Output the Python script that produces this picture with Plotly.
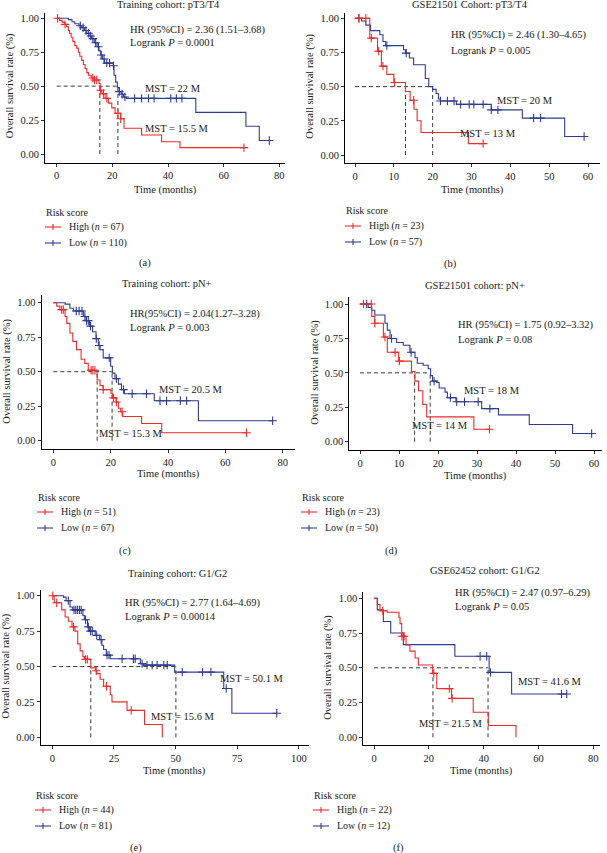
import numpy as np
import plotly.graph_objects as go

RED = "#ee2a2a"
BLUE = "#2f3c8f"
DASH = "#3a3a3a"
FONT = "Liberation Serif"
TXT = "#1a1a1a"

# ---------------- DATA ----------------
# (a) Training cohort: pT3/T4
a_title = "Training cohort: pT3/T4"
a_high_time = [1.0, 2.0, 2.8, 3.5, 4.2, 4.6, 5.2, 5.8, 6.5, 7.2, 7.8, 8.3, 9.0, 9.6, 10.2, 10.8,
               11.4, 12.4, 13.5, 15.2, 15.6, 16.2, 17.4, 18.6, 19.8, 21.0, 23.0, 24.2, 30.5, 37.7, 44.3]
a_high_surv = [0.985, 0.97, 0.955, 0.94, 0.91, 0.89, 0.86, 0.83, 0.80, 0.78, 0.75, 0.72, 0.69, 0.66, 0.63, 0.60,
               0.58, 0.56, 0.545, 0.52, 0.47, 0.445, 0.41, 0.375, 0.34, 0.30, 0.26, 0.19, 0.14, 0.09, 0.047]
a_high_end = 67.3
a_high_cens = [0.3, 3.0, 13.0, 13.6, 14.4, 15.8, 16.8, 18.0, 22.0, 23.0, 67.3]
a_low_time = [4.2, 5.5, 6.5, 8.0, 9.0, 10.0, 10.8, 12.0, 12.5, 13.5, 14.5, 15.2, 15.8, 16.4, 17.2,
              20.3, 20.6, 21.2, 21.8, 22.5, 23.2, 24.0, 25.0, 50.0, 68.0, 72.8]
a_low_surv = [0.99, 0.975, 0.96, 0.945, 0.93, 0.91, 0.89, 0.87, 0.85, 0.82, 0.79, 0.76, 0.73, 0.70, 0.67,
              0.65, 0.58, 0.53, 0.49, 0.46, 0.44, 0.42, 0.41, 0.307, 0.205, 0.10]
a_low_end = 76.4
a_low_cens = [8.5, 9.5, 10.5, 11.5, 12.2, 13.0, 14.0, 15.0, 16.0, 17.0, 18.0, 19.0, 20.4, 22.5, 23.5,
              24.5, 28.0, 30.5, 33.0, 35.0, 41.0, 43.0, 45.0, 76.4]
a_n = [67, 110]
a_mst = [15.5, 22]
a_hr = "HR (95%CI) = 2.36 (1.51–3.68)"
a_p = "0.0001"

# (b) GSE21501 Cohort: pT3/T4
b_title = "GSE21501 Cohort: pT3/T4"
b_high_time = [3.8, 5.8, 6.8, 8.2, 10.0, 13.0, 14.2, 15.2, 16.0, 17.0, 29.2]
b_high_surv = [0.855, 0.76, 0.65, 0.59, 0.53, 0.465, 0.40, 0.335, 0.25, 0.165, 0.083]
b_high_end = 33.0
b_high_cens = [1.0, 2.8, 4.2, 6.1, 7.2, 10.2, 15.1, 33.0]
b_low_time = [1.7, 2.8, 4.0, 6.4, 7.2, 7.9, 12.5, 13.0, 14.0, 15.1, 18.1, 19.0, 20.0, 20.9, 21.5, 22.0,
              26.1, 35.1, 43.1, 54.0]
b_low_surv = [0.98, 0.95, 0.91, 0.88, 0.83, 0.80, 0.77, 0.745, 0.71, 0.66, 0.56, 0.50, 0.48, 0.45, 0.41, 0.395,
              0.37, 0.33, 0.27, 0.135]
b_low_end = 59.0
b_low_cens = [1.0, 8.2, 13.2, 22.0, 23.8, 25.5, 27.2, 29.4, 30.6, 33.0, 35.1, 36.8, 46.0, 47.8, 59.0]
b_n = [23, 57]
b_mst = [13, 20]
b_hr = "HR (95%CI) = 2.46 (1.30–4.65)"
b_p = "0.005"

# (c) Training cohort: pN+
c_title = "Training cohort: pN+"
c_high_time = [1.2, 2.3, 4.1, 4.7, 5.8, 6.8, 8.1, 9.7, 11.0, 12.2, 15.3, 16.3, 17.4, 20.1, 20.6, 21.9,
               22.7, 23.5, 24.2, 30.8, 37.8]
c_high_surv = [0.975, 0.95, 0.90, 0.85, 0.78, 0.72, 0.66, 0.59, 0.56, 0.51, 0.44, 0.40, 0.37, 0.345, 0.31, 0.28,
               0.235, 0.21, 0.175, 0.125, 0.058]
c_high_end = 67.4
c_high_cens = [2.9, 3.5, 13.2, 13.8, 14.5, 17.4, 21.0, 22.0, 24.0, 67.4]
c_low_time = [4.1, 5.8, 7.0, 10.5, 11.4, 12.6, 13.7, 14.9, 15.7, 16.3, 17.4, 20.0, 20.6, 21.5, 22.7, 23.8,
              24.8, 35.2, 50.6]
c_low_surv = [0.99, 0.96, 0.94, 0.90, 0.87, 0.83, 0.79, 0.74, 0.69, 0.66, 0.60, 0.54, 0.49, 0.45, 0.41, 0.37,
              0.34, 0.29, 0.145]
c_low_end = 76.5
c_low_cens = [8.0, 9.0, 10.0, 11.0, 11.6, 12.2, 13.0, 15.0, 16.0, 19.5, 22.0, 24.5, 27.5, 32.5, 37.2,
              39.5, 44.3, 46.5, 76.5]
c_n = [51, 67]
c_mst = [15.3, 20.5]
c_hr = "HR(95%CI) = 2.04(1.27–3.28)"
c_p = "0.003"

# (d) GSE21501 cohort: pN+
d_title = "GSE21501 cohort: pN+"
d_high_time = [3.0, 3.8, 6.0, 7.0, 9.9, 13.2, 14.1, 15.0, 16.1, 17.1, 29.2]
d_high_surv = [0.91, 0.86, 0.76, 0.65, 0.585, 0.51, 0.44, 0.37, 0.27, 0.18, 0.09]
d_high_end = 33.2
d_high_cens = [0.9, 2.9, 3.8, 6.4, 9.0, 10.1, 33.2]
d_low_time = [2.1, 3.0, 3.8, 6.4, 7.0, 7.7, 9.4, 11.1, 12.8, 14.1, 14.7, 16.2, 17.5, 18.1, 18.6, 19.7,
              20.3, 21.8, 22.4, 24.6, 31.2, 35.5, 43.4, 54.5]
d_low_surv = [0.975, 0.955, 0.92, 0.86, 0.81, 0.75, 0.72, 0.70, 0.65, 0.61, 0.57, 0.555, 0.53, 0.48, 0.44, 0.43,
              0.39, 0.36, 0.32, 0.29, 0.24, 0.195, 0.125, 0.06]
d_low_end = 59.4
d_low_cens = [1.7, 8.1, 13.1, 19.0, 23.2, 24.8, 26.8, 30.3, 33.3, 59.4]
d_n = [23, 50]
d_mst = [14, 18]
d_hr = "HR (95%CI) = 1.75 (0.92–3.32)"
d_p = "0.08"

# (e) Training cohort: G1/G2
e_title = "Training cohort: G1/G2"
e_high_time = [0.8, 3.8, 5.2, 6.5, 8.0, 9.2, 10.3, 11.3, 12.4, 13.0, 15.6, 17.5, 18.1, 19.4, 20.8, 23.5,
               24.2, 30.3, 37.4, 44.6]
e_high_surv = [0.95, 0.90, 0.85, 0.82, 0.78, 0.75, 0.66, 0.61, 0.57, 0.55, 0.49, 0.47, 0.45, 0.41, 0.36, 0.30,
               0.25, 0.19, 0.09, 0.0]
e_high_end = 44.6
e_high_cens = [0.2, 1.8, 8.6, 13.5, 14.2, 17.8, 22.0, 32.0]
e_low_time = [4.5, 5.6, 7.2, 8.3, 12.4, 13.0, 14.3, 15.0, 17.4, 19.2, 20.1, 20.8, 21.9, 23.5, 35.7, 36.8,
              49.6, 69.5, 72.8]
e_low_surv = [0.99, 0.965, 0.92, 0.90, 0.86, 0.83, 0.78, 0.75, 0.72, 0.69, 0.65, 0.62, 0.58, 0.555, 0.52, 0.51,
              0.46, 0.345, 0.17]
e_low_end = 91.0
e_low_cens = [6.5, 8.8, 9.5, 10.2, 11.0, 11.7, 13.5, 14.6, 15.5, 16.2, 18.0, 19.8, 22.2, 23.0, 28.3, 32.9,
              33.6, 36.4, 38.4, 40.5, 42.5, 45.2, 46.6, 52.7, 60.9, 64.3, 70.5, 91.0]
e_n = [44, 81]
e_mst = [15.6, 50.1]
e_hr = "HR (95%CI) = 2.77 (1.64–4.69)"
e_p = "0.00014"

# (f) GSE62452 cohort: G1/G2
f_title = "GSE62452 cohort: G1/G2"
f_high_time = [1.2, 2.2, 4.8, 9.1, 9.5, 10.1, 11.7, 13.1, 15.0, 16.2, 21.4, 22.9, 28.3, 36.2, 41.7, 51.8]
f_high_surv = [0.955, 0.91, 0.90, 0.864, 0.818, 0.727, 0.665, 0.62, 0.57, 0.52, 0.46, 0.35, 0.28, 0.18, 0.085, 0.0]
f_high_end = 51.8
f_high_cens = [3.2, 10.2, 11.0, 21.8, 27.5, 28.5]
f_low_time = [1.2, 3.4, 6.1, 10.7, 29.5, 42.0, 50.2]
f_low_surv = [0.917, 0.833, 0.75, 0.667, 0.583, 0.467, 0.311]
f_low_end = 70.3
f_low_cens = [38.7, 41.1, 42.5, 68.4, 70.3]
f_n = [22, 12]
f_mst = [21.5, 41.6]
f_hr = "HR (95%CI) = 2.47 (0.97–6.29)"
f_p = "0.05"

# ---------------- LAYOUT SPECS (pixels) ----------------
W, H = 607, 853
specs = [
    dict(key="a", title=a_title, ht=a_high_time, hs=a_high_surv, he=a_high_end, hc=a_high_cens,
         lt=a_low_time, ls=a_low_surv, le=a_low_end, lc=a_low_cens, n=a_n, mst=a_mst, hr=a_hr, p=a_p,
         frame=(45, 285, 13, 162.7), cal=(56.7, 279.3, 80, 154.0, 18.3), xt=[0, 20, 40, 60, 80],
         hrpos=(25.7, 0.914, 0.82), msth=(30.9, 0.19), mstl=(31.1, 0.484),
         tpos=(168, 4), leg=(45, 212), sub=(145, 263), ytx=10, xty=190),
    dict(key="b", title=b_title, ht=b_high_time, hs=b_high_surv, he=b_high_end, hc=b_high_cens,
         lt=b_low_time, ls=b_low_surv, le=b_low_end, lc=b_low_cens, n=b_n, mst=b_mst, hr=b_hr, p=b_p,
         frame=(345, 600, 13, 163.3), cal=(355.0, 588.0, 60, 155.0, 18.3), xt=[0, 10, 20, 30, 40, 50, 60],
         hrpos=(24.1, 0.878, 0.768), msth=(26.6, 0.16), mstl=(36.0, 0.40),
         tpos=(470, 4), leg=(345, 211), sub=(450, 264), ytx=310, xty=190),
    dict(key="c", title=c_title, ht=c_high_time, hs=c_high_surv, he=c_high_end, hc=c_high_cens,
         lt=c_low_time, ls=c_low_surv, le=c_low_end, lc=c_low_cens, n=c_n, mst=c_mst, hr=c_hr, p=c_p,
         frame=(41.7, 295, 295, 449.3), cal=(53.3, 282.7, 80, 440.7, 302.7), xt=[0, 20, 40, 60, 80],
         hrpos=(26.2, 0.916, 0.82), msth=(15.1, 0.053), mstl=(36.3, 0.374),
         tpos=(167, 283), leg=(37, 497), sub=(125, 551), ytx=7, xty=474),
    dict(key="d", title=d_title, ht=d_high_time, hs=d_high_surv, he=d_high_end, hc=d_high_cens,
         lt=d_low_time, ls=d_low_surv, le=d_low_end, lc=d_low_cens, n=d_n, mst=d_mst, hr=d_hr, p=d_p,
         frame=(349.3, 602, 297, 450), cal=(360.0, 594.0, 60, 441.7, 304.0), xt=[0, 10, 20, 30, 40, 50, 60],
         hrpos=(24.6, 0.847, 0.743), msth=(12.8, 0.116), mstl=(26.1, 0.37),
         tpos=(475, 285), leg=(301, 497), sub=(392, 551), ytx=315, xty=476),
    dict(key="e", title=e_title, ht=e_high_time, hs=e_high_surv, he=e_high_end, hc=e_high_cens,
         lt=e_low_time, ls=e_low_surv, le=e_low_end, lc=e_low_cens, n=e_n, mst=e_mst, hr=e_hr, p=e_p,
         frame=(40.7, 309, 590, 745), cal=(52.3, 237.3, 75, 737.3, 595.7), xt=[0, 25, 50, 75, 100],
         hrpos=(28.5, 0.95, 0.856), msth=(39.3, 0.146), mstl=(67.3, 0.416),
         tpos=(177, 573), leg=(35, 795), sub=(136, 848), ytx=5, xty=771),
    dict(key="f", title=f_title, ht=f_high_time, hs=f_high_surv, he=f_high_end, hc=f_high_cens,
         lt=f_low_time, ls=f_low_surv, le=f_low_end, lc=f_low_cens, n=f_n, mst=f_mst, hr=f_hr, p=f_p,
         frame=(363.3, 600, 592, 745), cal=(374.0, 593.3, 80, 737.3, 598.3), xt=[0, 20, 40, 60, 80],
         hrpos=(28.9, 1.036, 0.94), msth=(15.6, 0.10), mstl=(51.8, 0.40),
         tpos=(485, 570), leg=(313, 795), sub=(398, 848), ytx=328, xty=771),
]


def km_xy(times, surv, end):
    x = [0.0] + list(times) + [end]
    y = [1.0] + list(surv) + [surv[-1]]
    return x, y


def cens_y(times, surv, cens):
    idx = np.searchsorted(np.array(times), np.array(cens), side="right")
    s = np.concatenate([[1.0], np.array(surv)])
    return s[idx].tolist()


fig = go.Figure()
annotations = []
shapes = []

def px2fx(px):
    return px / W

def py2fy(py):
    return 1 - py / H

FS = 10.5

for i, sp in enumerate(specs):
    k = "" if i == 0 else str(i + 1)
    xa, ya = "x" + k, "y" + k
    left, right, top, bottom = sp["frame"]
    x0, xk, kk, y0, y1 = sp["cal"]
    sx = (xk - x0) / kk
    sy = (y0 - y1)
    xr = [(left - x0) / sx, (right - x0) / sx]
    yr = [(y0 - bottom) / sy, (y0 - top) / sy]

    axis_common = dict(showline=True, linecolor="#000", linewidth=1, ticks="outside", ticklen=3,
                       tickcolor="#333", tickwidth=1, showgrid=False, zeroline=False,
                       tickfont=dict(family=FONT, size=FS, color=TXT))
    fig.layout["xaxis" + k] = dict(domain=[px2fx(left), px2fx(right)], range=xr, anchor=ya,
                                   tickvals=sp["xt"], **axis_common)
    fig.layout["yaxis" + k] = dict(domain=[py2fy(bottom), py2fy(top)], range=yr, anchor=xa,
                                   tickvals=[0, 0.25, 0.5, 0.75, 1.0], tickformat=".2f", **axis_common)

    mh, ml = sp["mst"]
    # dashed median lines
    fig.add_trace(go.Scatter(x=[0, max(mh, ml)], y=[0.5, 0.5], mode="lines", xaxis=xa, yaxis=ya,
                             line=dict(color=DASH, width=1, dash="4px,3px"), showlegend=False, hoverinfo="skip"))
    for m in (mh, ml):
        fig.add_trace(go.Scatter(x=[m, m], y=[0, 0.5], mode="lines", xaxis=xa, yaxis=ya,
                                 line=dict(color=DASH, width=1, dash="4px,3px"), showlegend=False, hoverinfo="skip"))

    for (t, s, e, c, col) in ((sp["lt"], sp["ls"], sp["le"], sp["lc"], BLUE),
                              (sp["ht"], sp["hs"], sp["he"], sp["hc"], RED)):
        x, y = km_xy(t, s, e)
        fig.add_trace(go.Scatter(x=x, y=y, mode="lines", line=dict(color=col, width=1.1, shape="hv"),
                                 xaxis=xa, yaxis=ya, showlegend=False))
        fig.add_trace(go.Scatter(x=c, y=cens_y(t, s, c), mode="markers", xaxis=xa, yaxis=ya,
                                 marker=dict(symbol="cross-thin", size=6, line=dict(color=col, width=1.1)),
                                 showlegend=False))

    txt = dict(family=FONT, size=FS, color=TXT)
    hx, hy, py_ = sp["hrpos"]
    annotations.append(dict(x=hx, y=hy, xref=xa, yref=ya, text=sp["hr"], showarrow=False,
                            xanchor="left", yanchor="middle", font=txt))
    annotations.append(dict(x=hx, y=py_, xref=xa, yref=ya, text="Logrank <i>P</i> = " + sp["p"],
                            showarrow=False, xanchor="left", yanchor="middle", font=txt))
    annotations.append(dict(x=sp["msth"][0], y=sp["msth"][1], xref=xa, yref=ya, text=f"MST = {mh:g} M",
                            showarrow=False, xanchor="left", yanchor="middle", font=txt))
    annotations.append(dict(x=sp["mstl"][0], y=sp["mstl"][1], xref=xa, yref=ya, text=f"MST = {ml:g} M",
                            showarrow=False, xanchor="left", yanchor="middle", font=txt))
    # title
    annotations.append(dict(x=px2fx(sp["tpos"][0]), y=py2fy(sp["tpos"][1]), xref="paper", yref="paper",
                            text=sp["title"], showarrow=False, xanchor="center", yanchor="middle", font=txt))
    # axis titles
    annotations.append(dict(x=px2fx((left + right) / 2), y=py2fy(sp["xty"]), xref="paper", yref="paper",
                            text="Time (months)", showarrow=False, xanchor="center", yanchor="middle", font=txt))
    annotations.append(dict(x=px2fx(sp["ytx"]), y=py2fy((y0 + y1) / 2), xref="paper", yref="paper",
                            text="Overall survival rate (%)", textangle=-90, showarrow=False,
                            xanchor="center", yanchor="middle", font=txt))
    # subfigure label
    annotations.append(dict(x=px2fx(sp["sub"][0]), y=py2fy(sp["sub"][1]), xref="paper", yref="paper",
                            text="(" + sp["key"] + ")", showarrow=False, xanchor="center", yanchor="middle",
                            font=txt))
    # legend (manual)
    lx, ly = sp["leg"]
    lfont = dict(family=FONT, size=10, color=TXT)
    annotations.append(dict(x=px2fx(lx - 1), y=py2fy(ly), xref="paper", yref="paper", text="Risk score",
                            showarrow=False, xanchor="left", yanchor="middle", font=lfont))
    for j, (lab, col, nn) in enumerate((("High", RED, sp["n"][0]), ("Low", BLUE, sp["n"][1]))):
        yy = ly + 15 + j * 16
        shapes.append(dict(type="line", xref="paper", yref="paper", x0=px2fx(lx), x1=px2fx(lx + 16),
                           y0=py2fy(yy), y1=py2fy(yy), line=dict(color=col, width=1.1)))
        shapes.append(dict(type="line", xref="paper", yref="paper", x0=px2fx(lx + 8), x1=px2fx(lx + 8),
                           y0=py2fy(yy - 3), y1=py2fy(yy + 3), line=dict(color=col, width=1.1)))
        annotations.append(dict(x=px2fx(lx + 22), y=py2fy(yy), xref="paper", yref="paper",
                                text=f"{lab} (<i>n</i> = {nn})", showarrow=False, xanchor="left",
                                yanchor="middle", font=lfont))

fig.update_layout(width=W, height=H, margin=dict(l=0, r=0, t=0, b=0), paper_bgcolor="white",
                  plot_bgcolor="white", annotations=annotations, shapes=shapes, showlegend=False,
                  font=dict(family=FONT, size=FS, color=TXT))
fig.write_html("out.html", config={"displayModeBar": False},
               post_script="document.body.style.margin='0';document.body.style.overflow='hidden';")
